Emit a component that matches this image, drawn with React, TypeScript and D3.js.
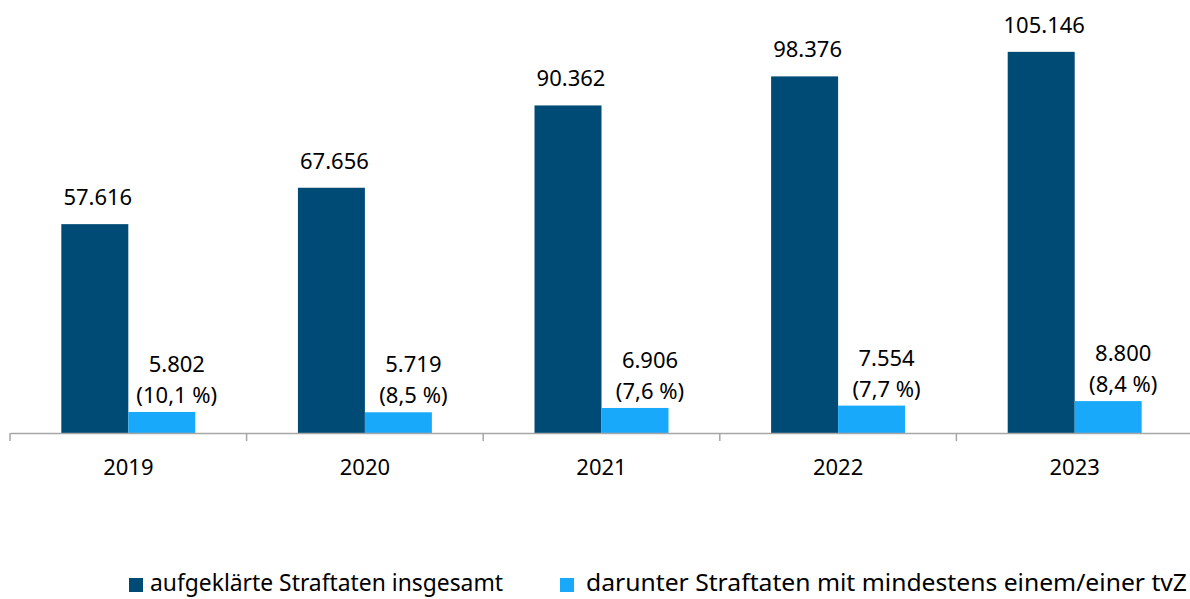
import { useEffect, useRef } from "react";
import * as d3 from "d3";

const years = ["2019", "2020", "2021", "2022", "2023"];
const total = [57616, 67656, 90362, 98376, 105146];
const withTvz = [5802, 5719, 6906, 7554, 8800];
const seriesNames = [
  "aufgeklärte Straftaten insgesamt",
  "darunter Straftaten mit mindestens einem/einer tvZ",
];
const colors = ["#004b76", "#18a9fb"];

const de = d3.formatLocale({
  decimal: ",",
  thousands: ".",
  grouping: [3],
  currency: ["", " €"],
});
const fmtInt = de.format(",d");
const fmtPct = de.format(".1f");

export default function App() {
  const ref = useRef<SVGSVGElement>(null);

  useEffect(() => {
    const width = 1190;
    const height = 599;
    const font = "'Noto Sans', sans-serif";
    const svg = d3.select(ref.current).attr("width", width).attr("height", height);
    svg.selectAll("*").remove();

    const baseY = 433;
    const x = d3.scaleBand().domain(years).range([10, 1193]).padding(0);
    const inner = d3
      .scaleBand()
      .domain(["total", "tvz"])
      .range([0, x.bandwidth()])
      .paddingInner(0)
      .paddingOuter(0.766);
    const y = d3.scaleLinear().domain([0, 120000]).range([baseY, -2]);

    const g = svg.append("g").style("font-family", font);

    // dark bars
    g.selectAll("rect.total")
      .data(years)
      .join("rect")
      .attr("class", "total")
      .attr("x", (d) => x(d)! + inner("total")!)
      .attr("y", (_, i) => y(total[i]))
      .attr("width", inner.bandwidth())
      .attr("height", (_, i) => baseY - y(total[i]))
      .attr("fill", colors[0]);

    g.selectAll("rect.tvz")
      .data(years)
      .join("rect")
      .attr("class", "tvz")
      .attr("x", (d) => x(d)! + inner("tvz")!)
      .attr("y", (_, i) => y(withTvz[i]))
      .attr("width", inner.bandwidth())
      .attr("height", (_, i) => baseY - y(withTvz[i]))
      .attr("fill", colors[1]);

    // value labels
    g.selectAll("text.lt")
      .data(years)
      .join("text")
      .attr("class", "lt")
      .attr("x", (d) => x(d)! + inner("total")! + inner.bandwidth() / 2 + 3)
      .attr("y", (_, i) => y(total[i]) - 19)
      .attr("text-anchor", "middle")
      .attr("font-size", 22)
      .attr("fill", "#000")
      .text((_, i) => fmtInt(total[i]));

    const lv = g
      .selectAll("text.lv")
      .data(years)
      .join("text")
      .attr("class", "lv")
      .attr("text-anchor", "middle")
      .attr("font-size", 22)
      .attr("fill", "#000");
    lv.append("tspan")
      .attr("x", (d) => x(d)! + inner("tvz")! + inner.bandwidth() / 2 + 15)
      .attr("y", (_, i) => y(withTvz[i]) - 40)
      .text((_, i) => fmtInt(withTvz[i]));
    lv.append("tspan")
      .attr("x", (d) => x(d)! + inner("tvz")! + inner.bandwidth() / 2 + 15)
      .attr("y", (_, i) => y(withTvz[i]) - 9)
      .text((_, i) => `(${fmtPct((withTvz[i] / total[i]) * 100)} %)`);

    // axis
    const axis = g
      .append("g")
      .attr("transform", `translate(0,${baseY})`)
      .call(d3.axisBottom(x).tickSize(0).tickPadding(26));
    axis.select(".domain").attr("stroke", "#a6a6a6").attr("stroke-width", 1.5);
    axis
      .selectAll(".tick text")
      .attr("font-size", 22)
      .attr("font-family", font)
      .attr("fill", "#000");
    axis
      .selectAll("line.sep")
      .data(years)
      .join("line")
      .attr("class", "sep")
      .attr("x1", (d) => x(d)!)
      .attr("x2", (d) => x(d)!)
      .attr("y1", 0)
      .attr("y2", 8)
      .attr("stroke", "#a6a6a6")
      .attr("stroke-width", 1.5);

    // legend
    const legendX = [129, 560];
    const legendTextLen = [353, 601];
    const leg = g
      .selectAll("g.leg")
      .data(seriesNames)
      .join("g")
      .attr("class", "leg")
      .attr("transform", (_, i) => `translate(${legendX[i]},578)`);
    leg.append("rect").attr("width", 14).attr("height", 14).attr("fill", (_, i) => colors[i]);
    leg
      .append("text")
      .attr("x", (_, i) => (i === 0 ? 21 : 26))
      .attr("y", 13)
      .attr("font-size", 23)
      .attr("textLength", (_, i) => legendTextLen[i])
      .attr("lengthAdjust", "spacingAndGlyphs")
      .attr("fill", "#000")
      .text((d) => d);
  }, []);

  return (
    <svg
      ref={ref}
      style={{ position: "absolute", left: 0, top: 0, display: "block" }}
    ></svg>
  );
}
